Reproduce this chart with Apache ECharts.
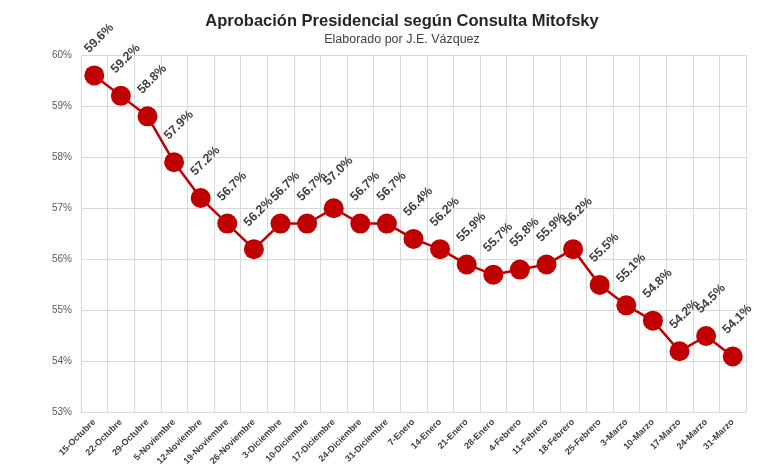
<!DOCTYPE html>
<html><head><meta charset="utf-8">
<script src="https://cdn.jsdelivr.net/npm/echarts@6/dist/echarts.min.js"></script>
<style>html,body{margin:0;padding:0;background:#fff}#c{width:780px;height:468px}</style>
</head><body><div id="c"></div>
<script>
const categories = ["15-Octubre","22-Octubre","29-Octubre","5-Noviembre","12-Noviembre","19-Noviembre","26-Noviembre","3-Diciembre","10-Diciembre","17-Diciembre","24-Diciembre","31-Diciembre","7-Enero","14-Enero","21-Enero","28-Enero","4-Febrero","11-Febrero","18-Febrero","25-Febrero","3-Marzo","10-Marzo","17-Marzo","24-Marzo","31-Marzo"];
const approval = [59.6,59.2,58.8,57.9,57.2,56.7,56.2,56.7,56.7,57.0,56.7,56.7,56.4,56.2,55.9,55.7,55.8,55.9,56.2,55.5,55.1,54.8,54.2,54.5,54.1];
const yMin = 53, yMax = 60, yStep = 1;

const chart = echarts.init(document.getElementById('c'));
chart.setOption({
  backgroundColor: '#fff',
  animation: false,
  title: [{
    text: 'Aprobación Presidencial según Consulta Mitofsky',
    left: 397, top: 8, textAlign: 'center',
    textStyle: {fontFamily: 'Liberation Sans', fontSize: 16.5, fontWeight: 'bold', color: '#262626'}
  },{
    text: 'Elaborado por J.E. Vázquez',
    left: 397, top: 28, textAlign: 'center',
    textStyle: {fontFamily: 'Liberation Sans', fontSize: 12.5, fontWeight: 'normal', color: '#404040'}
  }],
  grid: {left: 81, right: 34, top: 55, bottom: 55},
  xAxis: {
    type: 'category', data: categories, boundaryGap: true,
    axisLine: {lineStyle: {color: '#d9d9d9'}},
    axisTick: {show: false},
    splitLine: {show: true, interval: (i) => i < categories.length, lineStyle: {color: '#d9d9d9', width: 1}},
    axisLabel: {interval: 0, rotate: 45, fontSize: 9, fontWeight: 'bold', color: '#404040', fontFamily: 'Liberation Sans', margin: 8}
  },
  yAxis: {
    type: 'value', min: yMin, max: yMax, interval: yStep,
    axisLine: {show: false}, axisTick: {show: false},
    splitLine: {lineStyle: {color: '#d9d9d9', width: 1}},
    axisLabel: {formatter: '{value}%', fontSize: 10, color: '#595959', fontFamily: 'Liberation Sans', margin: 9}
  },
  series: [{
    type: 'line', data: approval,
    symbol: 'circle', symbolSize: 20,
    lineStyle: {color: '#C00000', width: 2.5},
    itemStyle: {color: '#C00000'},
    label: {
      show: true, position: 'top', distance: 4, rotate: 45,
      align: 'left', verticalAlign: 'middle', offset: [2, -13],
      formatter: p => p.value.toFixed(1) + '%',
      fontSize: 12.5, fontWeight: 'bold', color: '#404040', fontFamily: 'Liberation Sans'
    }
  }]
});
</script></body></html>
